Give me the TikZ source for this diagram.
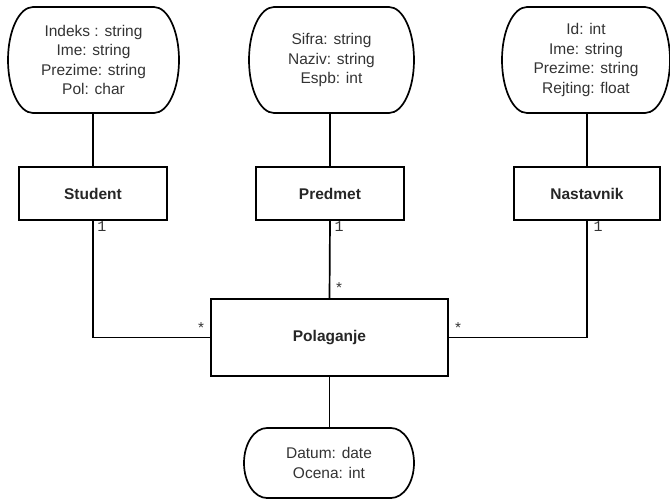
\documentclass[tikz,border=0pt]{standalone}
\usepackage{fontspec}
\setmainfont{Liberation Sans}
\setmonofont{Liberation Mono}
\newcommand\attrshape[3]{\draw[conn] ([xshift=#2pt]#1.north west) -- ([xshift=-#2pt]#1.north east) arc[start angle=90,end angle=-90,x radius=#2pt,y radius=#3pt] -- ([xshift=#2pt]#1.south west) arc[start angle=270,end angle=90,x radius=#2pt,y radius=#3pt] -- cycle;}
\begin{document}
\begin{tikzpicture}[x=1pt,y=1pt,
  conn/.style={line width=1.7pt, line join=miter},
  entity/.style={draw, line width=1.7pt, inner sep=0pt, outer sep=0pt, text=black!85, font=\bfseries\fontsize{15.5}{19}\selectfont},
  attr/.style={inner sep=0pt, outer sep=0pt, align=center, text=black!80, font=\fontsize{15.5}{19.5}\selectfont},
  mult/.style={inner sep=0pt, text=black!80, font=\ttfamily\fontsize{15}{15}\selectfont}]
\useasboundingbox (0,0) rectangle (670,-499);
% attribute nodes
\node[attr, minimum width=171pt, minimum height=106pt] (aS) at (93.5,-60) {Indeks : string\\Ime: string\\Prezime: string\\Pol: char};
\node[attr, minimum width=165pt, minimum height=106pt] (aP) at (331.5,-60) {Sifra: string\\Naziv: string\\Espb: int};
\node[attr, minimum width=168pt, minimum height=106pt] (aN) at (586,-60) {Id: int\\Ime: string\\Prezime: string\\Rejting: float};
\node[attr, minimum width=170pt, minimum height=70pt] (aD) at (329,-463) {Datum: date\\Ocena: int};
\attrshape{aS}{25}{53}
\attrshape{aP}{25}{53}
\attrshape{aN}{25}{53}
\attrshape{aD}{23}{35}
% entities
\node[entity, minimum width=148pt, minimum height=53pt] (st) at (93,-193.5) {Student};
\node[entity, minimum width=148pt, minimum height=53pt] (pr) at (330,-193.5) {Predmet};
\node[entity, minimum width=146pt, minimum height=53pt] (na) at (587,-193.5) {Nastavnik};
\node[entity, minimum width=237pt, minimum height=77pt] (po) at (329.5,-337.5) {Polaganje};
% connectors
\draw[conn] (aS.south -| st.north) -- (st.north);
\draw[conn] (aP.south -| pr.north) -- (pr.north);
\draw[conn] (aN.south -| na.north) -- (na.north);
\draw[conn] (st.south) |- (po.west);
\draw[conn] (pr.south) -- (po.north);
\draw[conn] (na.south) |- (po.east);
\draw[conn] (po.south) -- (aD.north -| po.south);
% multiplicities
\node[mult] (m1) at (102,-227) {1};
\node[mult] (m2) at (339,-227) {1};
\node[mult] (m3) at (598,-227) {1};
\node[mult] (s1) at (339,-288) {*};
\node[mult] (s2) at (201,-328) {*};
\node[mult] (s3) at (458,-328) {*};
\end{tikzpicture}
\end{document}
